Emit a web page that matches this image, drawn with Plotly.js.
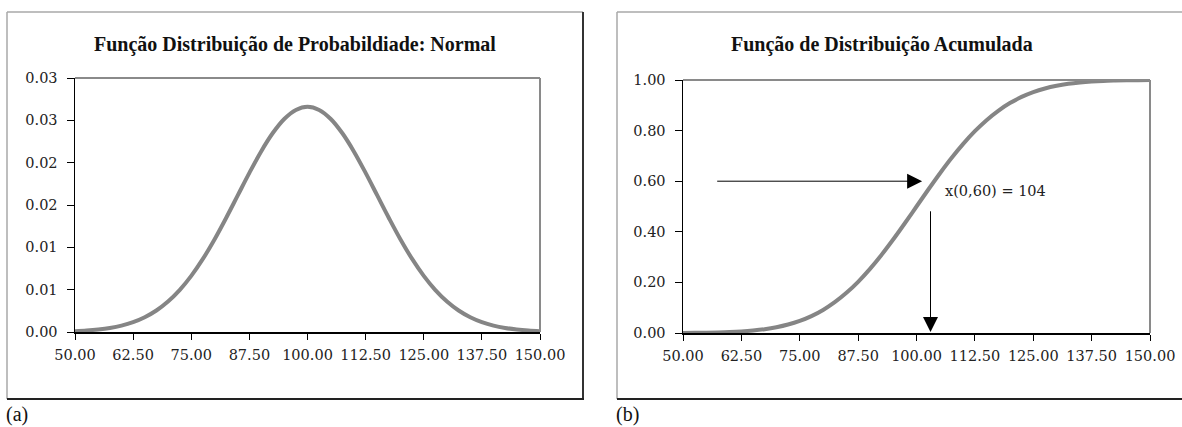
<!DOCTYPE html>
<html>
<head>
<meta charset="utf-8">
<script src="https://cdn.plot.ly/plotly-3.0.1.min.js"></script>
<style>html,body{margin:0;padding:0;background:#fff;}#chart{width:1182px;height:427px;}</style>
</head>
<body>
<div id="chart"></div>
<script>
// ---- data ----
const xValues = [50, 52.5, 55, 57.5, 60, 62.5, 65, 67.5, 70, 72.5, 75, 77.5, 80, 82.5, 85, 87.5, 90, 92.5, 95, 97.5,
  100, 102.5, 105, 107.5, 110, 112.5, 115, 117.5, 120, 122.5, 125, 127.5, 130, 132.5, 135, 137.5, 140, 142.5, 145, 147.5, 150];
const pdfValues = [0.00010, 0.00018, 0.00030, 0.00048, 0.00076, 0.00117, 0.00175, 0.00254, 0.00360, 0.00495,
  0.00663, 0.00863, 0.01093, 0.01347, 0.01613, 0.01879, 0.02130, 0.02347, 0.02516, 0.02623,
  0.02660,
  0.02623, 0.02516, 0.02347, 0.02130, 0.01879, 0.01613, 0.01347, 0.01093, 0.00863, 0.00663,
  0.00495, 0.00360, 0.00254, 0.00175, 0.00117, 0.00076, 0.00048, 0.00030, 0.00018, 0.00010];
const cdfValues = [0.0004, 0.0008, 0.0013, 0.0023, 0.0038, 0.0062, 0.0098, 0.0151, 0.0228, 0.0334,
  0.0478, 0.0668, 0.0912, 0.1217, 0.1587, 0.2023, 0.2525, 0.3085, 0.3694, 0.4338,
  0.5000,
  0.5662, 0.6306, 0.6915, 0.7475, 0.7977, 0.8413, 0.8783, 0.9088, 0.9332, 0.9522,
  0.9666, 0.9772, 0.9849, 0.9902, 0.9938, 0.9962, 0.9977, 0.9987, 0.9992, 0.9996];
const xTickVals = [50, 62.5, 75, 87.5, 100, 112.5, 125, 137.5, 150];
const xTickText = ["50.00", "62.50", "75.00", "87.50", "100.00", "112.50", "125.00", "137.50", "150.00"];
const pdfTickVals = [0, 0.005, 0.01, 0.015, 0.02, 0.025, 0.03];
const pdfTickText = ["0.00", "0.01", "0.01", "0.02", "0.02", "0.03", "0.03"];
const cdfTickVals = [0, 0.2, 0.4, 0.6, 0.8, 1.0];
const cdfTickText = ["0.00", "0.20", "0.40", "0.60", "0.80", "1.00"];
const titleLeft = "Função Distribuição de Probabildiade: Normal";
const titleRight = "Função de Distribuição Acumulada";
const quantileProb = 0.60;
const quantileX = 103;
const arrowStartX = 57;
const quantileLabel = "x(0,60) = 104";

// ---- layout helpers (pixel -> paper) ----
const W = 1182, H = 427;
const px = v => v / W;
const py = v => 1 - v / H;

const tickFont = {family: "DejaVu Serif", size: 14.5, color: "#222"};
const curveLine = {color: "#858585", width: 4, shape: "spline"};

const traces = [
  {x: xValues, y: pdfValues, type: "scatter", mode: "lines", line: curveLine, xaxis: "x", yaxis: "y", hoverinfo: "skip"},
  {x: xValues, y: cdfValues, type: "scatter", mode: "lines", line: curveLine, xaxis: "x2", yaxis: "y2", hoverinfo: "skip"}
];

function xAxis(domain, anchor) {
  return {domain: domain, anchor: anchor, range: [50, 150], tickmode: "array", tickvals: xTickVals, ticktext: xTickText,
    ticks: "outside", ticklen: 6, tickcolor: "#000", tickwidth: 1, showline: true, linecolor: "#000", linewidth: 1.5,
    ticklabelstandoff: 3,
    showgrid: false, zeroline: false, tickfont: tickFont, fixedrange: true};
}
function yAxis(domain, anchor, range, tv, tt) {
  return {domain: domain, anchor: anchor, range: range, tickmode: "array", tickvals: tv, ticktext: tt,
    ticks: "outside", ticklen: 7, tickcolor: "#000", tickwidth: 1, showline: true, linecolor: "#000", linewidth: 1.5,
    ticklabelstandoff: 6,
    showgrid: false, zeroline: false, tickfont: tickFont, fixedrange: true};
}

const shapes = [
  // left frame
  {type: "line", xref: "paper", yref: "paper", x0: px(7), x1: px(7), y0: py(12), y1: py(399), line: {color: "#a8a8a8", width: 1.5}},
  {type: "line", xref: "paper", yref: "paper", x0: px(7), x1: px(583), y0: py(12), y1: py(12), line: {color: "#a8a8a8", width: 1.5}},
  {type: "line", xref: "paper", yref: "paper", x0: px(583), x1: px(583), y0: py(12), y1: py(399), line: {color: "#333", width: 2}},
  {type: "line", xref: "paper", yref: "paper", x0: px(7), x1: px(584), y0: py(399), y1: py(399), line: {color: "#222", width: 2}},
  // right frame
  {type: "line", xref: "paper", yref: "paper", x0: px(617), x1: px(617), y0: py(12), y1: py(399), line: {color: "#a8a8a8", width: 1.5}},
  {type: "line", xref: "paper", yref: "paper", x0: px(617), x1: 1, y0: py(12), y1: py(12), line: {color: "#a8a8a8", width: 1.5}},
  {type: "line", xref: "paper", yref: "paper", x0: px(617), x1: 1, y0: py(399), y1: py(399), line: {color: "#222", width: 2}},
  // plot area top/right borders (gray)
  {type: "line", xref: "x domain", yref: "y domain", x0: 0, x1: 1, y0: 1, y1: 1, line: {color: "#8a8a8a", width: 2}},
  {type: "line", xref: "x domain", yref: "y domain", x0: 1, x1: 1, y0: 0, y1: 1, line: {color: "#8a8a8a", width: 2}},
  {type: "line", xref: "x2 domain", yref: "y2 domain", x0: 0, x1: 1, y0: 1, y1: 1, line: {color: "#8a8a8a", width: 2}},
  {type: "line", xref: "x2 domain", yref: "y2 domain", x0: 1, x1: 1, y0: 0, y1: 1, line: {color: "#8a8a8a", width: 2}}
];

const annotations = [
  {xref: "paper", yref: "paper", x: px(295), y: py(44), text: "<b>" + titleLeft + "</b>", showarrow: false,
    font: {family: "Liberation Serif", size: 20, color: "#111"}, xanchor: "center", yanchor: "middle"},
  {xref: "paper", yref: "paper", x: px(882), y: py(44), text: "<b>" + titleRight + "</b>", showarrow: false,
    font: {family: "Liberation Serif", size: 20, color: "#111"}, xanchor: "center", yanchor: "middle"},
  {xref: "paper", yref: "paper", x: px(5), y: 0, text: "(a)", showarrow: false, borderpad: 0,
    font: {family: "Liberation Serif", size: 20, color: "#111"}, xanchor: "left", yanchor: "bottom"},
  {xref: "paper", yref: "paper", x: px(615), y: 0, text: "(b)", showarrow: false, borderpad: 0,
    font: {family: "Liberation Serif", size: 20, color: "#111"}, xanchor: "left", yanchor: "bottom"},
  // horizontal arrow at p = 0.60
  {xref: "x2", yref: "y2", axref: "x2", ayref: "y2", x: 101.2, y: quantileProb, ax: arrowStartX, ay: quantileProb,
    showarrow: true, arrowhead: 2, arrowsize: 3, arrowwidth: 1, arrowcolor: "#000", text: ""},
  // vertical arrow down to the axis
  {xref: "x2", yref: "y2", axref: "x2", ayref: "y2", x: quantileX, y: 0.004, ax: quantileX, ay: 0.487,
    showarrow: true, arrowhead: 2, arrowsize: 3, arrowwidth: 1, arrowcolor: "#000", text: ""},
  {xref: "x2", yref: "y2", x: 105.6, y: 0.56, text: quantileLabel, showarrow: false,
    font: {family: "DejaVu Serif", size: 14.5, color: "#222"}, xanchor: "left", yanchor: "middle"}
];

const layout = {
  width: W, height: H, margin: {l: 0, r: 0, t: 0, b: 0},
  paper_bgcolor: "#fff", plot_bgcolor: "#fff", showlegend: false,
  xaxis: xAxis([px(75), px(540)], "y"),
  yaxis: yAxis([py(332), py(78)], "x", [0, 0.03], pdfTickVals, pdfTickText),
  xaxis2: xAxis([px(683), px(1150)], "y2"),
  yaxis2: yAxis([py(333), py(80)], "x2", [0, 1], cdfTickVals, cdfTickText),
  shapes: shapes, annotations: annotations
};

Plotly.newPlot("chart", traces, layout, {displayModeBar: false, staticPlot: true});
</script>
</body>
</html>
